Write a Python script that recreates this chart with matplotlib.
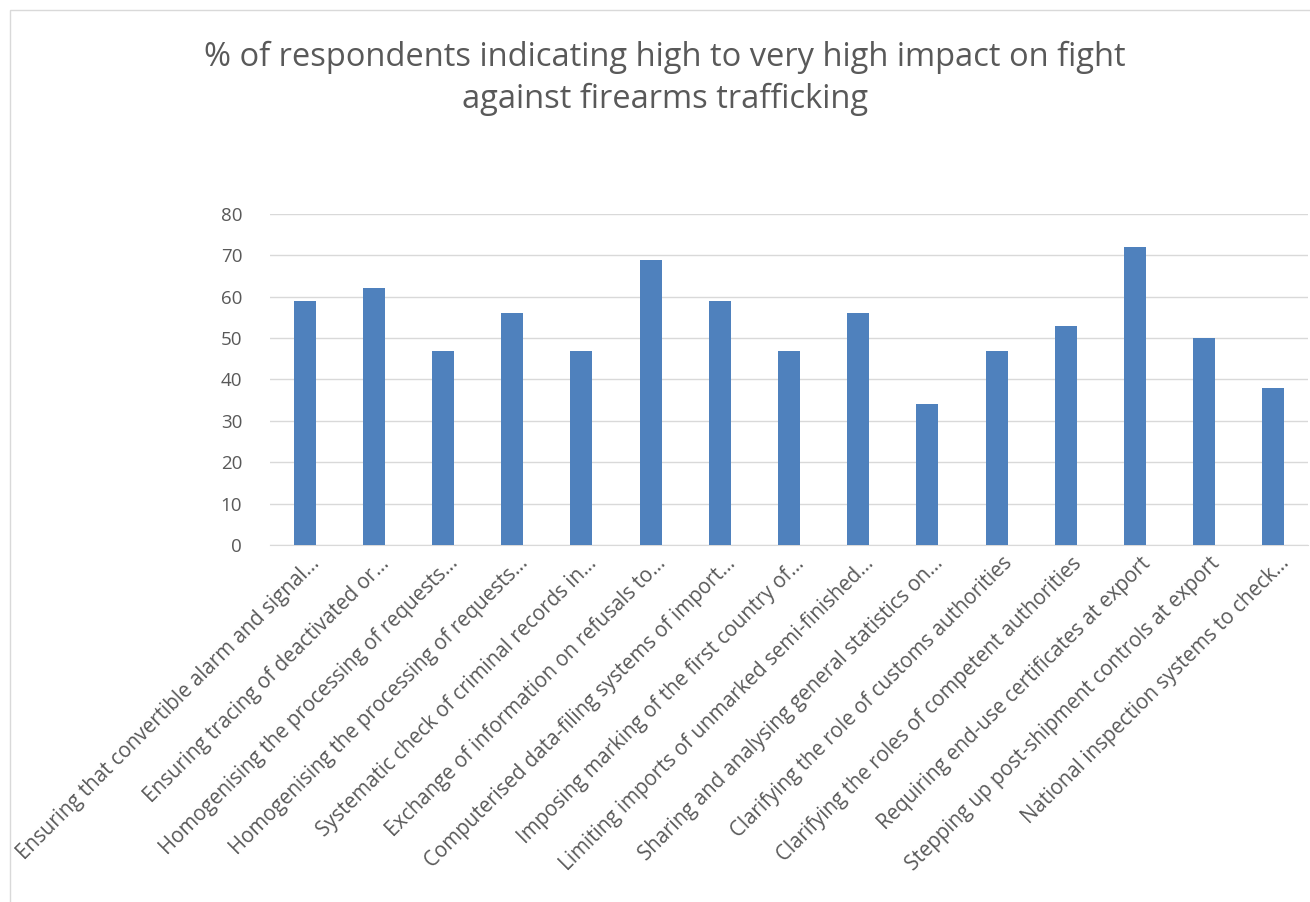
import matplotlib.pyplot as plt
import matplotlib.transforms as mtransforms
from matplotlib.patches import Rectangle

# Data
categories = [
    "Ensuring that convertible alarm and signal...",
    "Ensuring tracing of deactivated or...",
    "Homogenising the processing of requests...",
    "Homogenising the processing of requests...",
    "Systematic check of criminal records in...",
    "Exchange of information on refusals to...",
    "Computerised data-filing systems of import...",
    "Imposing marking of the first country of...",
    "Limiting imports of unmarked semi-finished...",
    "Sharing and analysing general statistics on...",
    "Clarifying the role of customs authorities",
    "Clarifying the roles of competent authorities",
    "Requiring end-use certificates at export",
    "Stepping up post-shipment controls at export",
    "National inspection systems to check...",
]
values = [59, 62, 47, 56, 47, 69, 59, 47, 56, 34, 47, 53, 72, 50, 38]
yticks = [0, 10, 20, 30, 40, 50, 60, 70, 80]

plt.rcParams['font.family'] = ['Open Sans', 'DejaVu Sans']
text_col = '#595959'

fig = plt.figure(figsize=(13.1, 9.02), dpi=100)
ax = fig.add_axes([270 / 1310, 1 - 545 / 902, 1038 / 1310, (545 - 214) / 902])

x = range(len(categories))
ax.bar(x, values, width=0.32, color='#4F81BD', zorder=3)

ax.set_xlim(-0.5, len(categories) - 0.5)
ax.set_ylim(0, 80)
ax.set_yticks(yticks)
ax.set_yticklabels([str(v) for v in yticks], fontsize=13.5, color=text_col)
ax.grid(axis='y', color='#D9D9D9', linewidth=1, zorder=0)
ax.set_xticks(list(x))
ax.set_xticklabels(categories, rotation=45, ha='right', va='top',
                   rotation_mode='anchor', fontsize=14.8, color=text_col)
ax.tick_params(axis='x', length=0, pad=0)
ax.tick_params(axis='y', length=0, pad=20)
# nudge the rotated labels so their ends sit right of the bars, as in Excel
shift = mtransforms.ScaledTranslation(5 / 100, -8 / 100, fig.dpi_scale_trans)
for lbl in ax.get_xticklabels():
    lbl.set_transform(lbl.get_transform() + shift)
for s in ['top', 'right', 'left']:
    ax.spines[s].set_visible(False)
ax.spines['bottom'].set_color('#D9D9D9')

fig.text(665 / 1310, 1 - 78 / 902,
         "% of respondents indicating high to very high impact on fight\nagainst firearms trafficking",
         ha='center', va='center', fontsize=23.5, color=text_col, linespacing=1.35)

# chart border
fig.patches.append(Rectangle((10 / 1310, -0.01), 1.2, 1 - 10 / 902 + 0.01,
                             transform=fig.transFigure, fill=False,
                             edgecolor='#D9D9D9', linewidth=1))

fig.savefig('out.png', dpi=100)
